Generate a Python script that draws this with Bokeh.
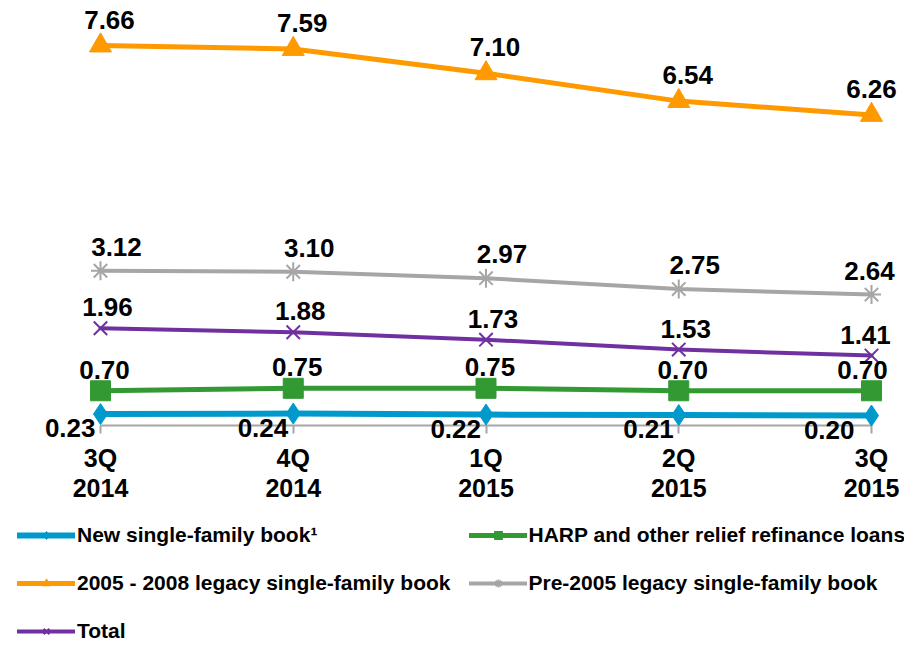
from bokeh.plotting import figure
from bokeh.models import ColumnDataSource, LabelSet, Legend, LegendItem, FixedTicker, Range1d
from bokeh.core.properties import value
from bokeh.embed import file_html
from bokeh.resources import INLINE

# ---- data ----
quarters = ["3Q\n2014", "4Q\n2014", "1Q\n2015", "2Q\n2015", "3Q\n2015"]
new_book = [0.23, 0.24, 0.22, 0.21, 0.20]
harp = [0.70, 0.75, 0.75, 0.70, 0.70]
legacy_0508 = [7.66, 7.59, 7.10, 6.54, 6.26]
pre_2005 = [3.12, 3.10, 2.97, 2.75, 2.64]
total = [1.96, 1.88, 1.73, 1.53, 1.41]
series_names = [
    "New single-family book\u00b9",
    "HARP and other relief refinance loans",
    "2005 - 2008 legacy single-family book",
    "Pre-2005 legacy single-family book",
    "Total",
]

FONT = "Liberation Sans"
x = list(range(len(quarters)))

W, H = 904, 647
PX_PER_X = 192.75
X0_PX = 100
PX_PER_UNIT = 49.6
ZERO_PX = 425
p = figure(width=W, height=H,
           x_range=Range1d(-X0_PX / PX_PER_X, (W - X0_PX) / PX_PER_X),
           y_range=Range1d(-(H - ZERO_PX) / PX_PER_UNIT, ZERO_PX / PX_PER_UNIT),
           y_axis_location=None, output_backend="svg", toolbar_location=None,
           min_border=0, outline_line_color=None)
p.grid.visible = False
p.background_fill_color = "white"

# style per series: color, line width, marker, marker size, marker line width,
# label align, x offset, x offset of last label, y offset
styles = [
    ("#0099CC", 6, "diamond", 21, 1, "right", -5, -17, -23),
    ("#339933", 5, "square", 20, 1, "center", 4, -9, 12),
    ("#FF9900", 5, "triangle", 22, 1, "center", 9, 0, 17),
    ("#A6A6A6", 4, "asterisk", 19, 2, "center", 16, -2, 15),
    ("#7030A0", 4, "x", 19, 2, "center", 7, -6, 12),
]
values = [new_book, harp, legacy_0508, pre_2005, total]

items = []
label_sets = []
for name, ys, st in zip(series_names, values, styles):
    color, lw, marker, msize, mlw, align, xo, xo_last, yo = st
    offs = [xo] * (len(ys) - 1) + [xo_last]
    src = ColumnDataSource(dict(x=x, y=ys, label=["%.2f" % v for v in ys], xo=offs))
    lr = p.line("x", "y", source=src, line_color=color, line_width=lw,
                line_cap="round", line_join="round")
    mr = p.scatter("x", "y", source=src, marker=marker, size=msize,
                   fill_color=color, line_color=color, line_width=mlw)
    items.append(LegendItem(label=name, renderers=[lr, mr]))
    label_sets.append(LabelSet(x="x", y="y", text="label", source=src,
                               text_align=align, text_baseline="alphabetic",
                               x_offset="xo", y_offset=yo,
                               text_font=value(FONT), text_font_size=value("26px"),
                               text_font_style="bold", text_color="black"))
for ls in label_sets:
    p.add_layout(ls)

ax = p.xaxis[0]
ax.fixed_location = 0
ax.ticker = FixedTicker(ticks=x)
ax.major_label_overrides = {i: q for i, q in zip(x, quarters)}
ax.bounds = (x[0], x[-1])
ax.axis_line_color = "#A6A6A6"
ax.axis_line_width = 2
ax.major_tick_line_color = "#A6A6A6"
ax.major_tick_line_width = 2
ax.major_tick_in = 0
ax.major_tick_out = 8
ax.minor_tick_line_color = None
ax.major_label_standoff = 10
ax.major_label_text_font = FONT
ax.major_label_text_font_size = "25px"
ax.major_label_text_font_style = "bold"
ax.major_label_text_color = "black"
ax.major_label_text_line_height = 1.1
ax.level = "underlay"

legend = Legend(items=items, orientation="horizontal", ncols=2,
                location=(17, 1),
                label_text_font=FONT, label_text_font_size="21px",
                label_text_font_style="bold", label_text_color="black",
                glyph_width=58, glyph_height=20, label_standoff=2,
                label_height=30, spacing=18, padding=0, margin=0,
                border_line_color=None, background_fill_alpha=0)
p.add_layout(legend, "center")

open("out.html", "w").write(file_html(p, INLINE))
